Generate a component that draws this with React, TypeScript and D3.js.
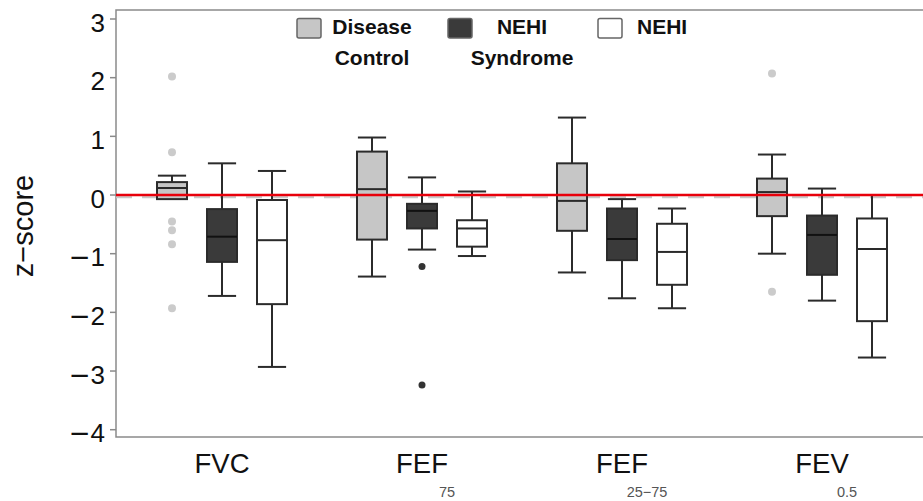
import React from "react";
import * as d3 from "d3";

const categories = ["FVC", "FEF75", "FEF25-75", "FEV0.5"];
const categoryLabels = ["FVC", "FEF", "FEF", "FEV"];
const categorySubs = ["", "75", "25−75", "0.5"];
const groups = ["Disease Control", "NEHI Syndrome", "NEHI"];
const legendLines = [["Disease", "Control"], ["NEHI", "Syndrome"], ["NEHI"]];
const yTicks = [-4, -3, -2, -1, 0, 1, 2, 3];

// [lower whisker, Q1, median, Q3, upper whisker] per category
const diseaseControl = [
  [-0.07, -0.07, 0.12, 0.22, 0.33],
  [-1.39, -0.76, 0.1, 0.74, 0.98],
  [-1.32, -0.61, -0.1, 0.54, 1.32],
  [-1.0, -0.36, 0.05, 0.28, 0.69],
];
const nehiSyndrome = [
  [-1.72, -1.14, -0.71, -0.24, 0.54],
  [-0.93, -0.57, -0.27, -0.15, 0.3],
  [-1.76, -1.11, -0.75, -0.23, -0.07],
  [-1.8, -1.36, -0.68, -0.35, 0.11],
];
const nehi = [
  [-2.93, -1.86, -0.77, -0.085, 0.41],
  [-1.04, -0.88, -0.57, -0.43, 0.06],
  [-1.93, -1.53, -0.97, -0.49, -0.23],
  [-2.77, -2.15, -0.92, -0.4, 0.0],
];
const diseaseControlOutliers = [
  [2.02, 0.73, -0.45, -0.6, -0.84, -1.93],
  [],
  [],
  [2.07, -1.65],
];
const nehiSyndromeOutliers = [[], [-1.22, -3.24], [], []];
const nehiOutliers = [[], [], [], []];

const stats = [diseaseControl, nehiSyndrome, nehi];
const outliers = [diseaseControlOutliers, nehiSyndromeOutliers, nehiOutliers];
const fills = ["#c6c6c6", "#3a3a3a", "#ffffff"];
const outlierFills = ["#cbcbcb", "#333333", "#ffffff"];
const medianStroke = ["#2a2a2a", "#111111", "#2a2a2a"];

const W = 923;
const H = 501;
const frameLeft = 116;
const frameTop = 10;
const frameBottom = 437;

export default function App() {
  const x = d3.scaleBand<string>().domain(categories).range([122, 922]);
  const xg = d3.scaleBand<string>().domain(groups).range([-75, 75]);
  const y = d3.scaleLinear().domain([-4, 3]).range([429.7, 19]);
  const boxW = xg.bandwidth() * 0.6;
  const capW = boxW * 0.94;
  const stroke = "#2b2b2b";
  const axisColor = "#8a8a8a";
  const font = "'Liberation Sans', Arial, Helvetica, sans-serif";

  return (
    <svg
      width={W}
      height={H}
      style={{ position: "absolute", left: 0, top: 0, background: "#fff" }}
      fontFamily={font}
    >
      <rect x={0} y={0} width={W} height={H} fill="#fff" />
      {/* frame */}
      <path
        d={`M${W + 5},${frameTop}H${frameLeft}V${frameBottom}H${W + 5}`}
        fill="none"
        stroke={axisColor}
        strokeWidth={1.5}
      />
      {/* y ticks */}
      {yTicks.map((t) => (
        <g key={t}>
          <line x1={frameLeft - 6} x2={frameLeft} y1={y(t)} y2={y(t)} stroke={axisColor} strokeWidth={1.5} />
          <text x={105} y={y(t) + 12.5} textAnchor="end" fontSize={26} fill="#111">
            {t < 0 ? (
              <>
                <tspan fontFamily="'DejaVu Sans'">−</tspan>
                {Math.abs(t)}
              </>
            ) : (
              String(t)
            )}
          </text>
        </g>
      ))}
      {/* y label */}
      <text
        transform={`translate(33,226) rotate(-90)`}
        textAnchor="middle"
        fontSize={29}
        fill="#111"
      >
        z−score
      </text>
      {/* zero dashed reference */}
      <line
        x1={frameLeft}
        x2={W}
        y1={y(0) + 2.3}
        y2={y(0) + 2.3}
        stroke="#c8c8c8"
        strokeWidth={2}
        strokeDasharray="16 10"
      />
      {/* boxes */}
      {categories.map((c, ci) =>
        groups.map((g, gi) => {
          const s = stats[gi][ci];
          const cx = (x(c) as number) + x.bandwidth() / 2 + (xg(g) as number) + xg.bandwidth() / 2;
          const [lo, q1, med, q3, hi] = s;
          return (
            <g key={c + g}>
              <line x1={cx} x2={cx} y1={y(hi)} y2={y(q3)} stroke={stroke} strokeWidth={2} />
              <line x1={cx} x2={cx} y1={y(q1)} y2={y(lo)} stroke={stroke} strokeWidth={2} />
              <line x1={cx - capW / 2} x2={cx + capW / 2} y1={y(hi)} y2={y(hi)} stroke={stroke} strokeWidth={2} />
              {lo < q1 && (
                <line x1={cx - capW / 2} x2={cx + capW / 2} y1={y(lo)} y2={y(lo)} stroke={stroke} strokeWidth={2} />
              )}
              <rect
                x={cx - boxW / 2}
                y={y(q3)}
                width={boxW}
                height={y(q1) - y(q3)}
                fill={fills[gi]}
                stroke={stroke}
                strokeWidth={2}
              />
              <line
                x1={cx - boxW / 2}
                x2={cx + boxW / 2}
                y1={y(med)}
                y2={y(med)}
                stroke={medianStroke[gi]}
                strokeWidth={2}
              />
              {outliers[gi][ci].map((o, oi) => (
                <circle key={oi} cx={cx} cy={y(o)} r={gi === 0 ? 4 : 3.5} fill={outlierFills[gi]} />
              ))}
            </g>
          );
        })
      )}
      {/* red zero line */}
      <line x1={frameLeft} x2={W} y1={y(0)} y2={y(0)} stroke="#e8000b" strokeWidth={2.7} />
      {/* x labels */}
      {categories.map((c, ci) => {
        const cx = (x(c) as number) + x.bandwidth() / 2;
        return (
          <g key={c}>
            <text x={cx} y={473} textAnchor="middle" fontSize={27.5} fill="#111">
              {categoryLabels[ci]}
            </text>
            {categorySubs[ci] && (
              <text x={cx + 25} y={497} textAnchor="middle" fontSize={14.5} fill="#555">
                {categorySubs[ci]}
              </text>
            )}
          </g>
        );
      })}
      {/* legend */}
      {groups.map((g, gi) => {
        const rx = [297, 448, 598][gi];
        const tx = [372, 522, 637][gi];
        const anchor = gi === 2 ? "start" : "middle";
        return (
          <g key={g}>
            <rect x={rx} y={18.5} width={24} height={19.5} rx={2} fill={fills[gi]} stroke="#666" strokeWidth={1.5} />
            {legendLines[gi].map((ln, li) => (
              <text key={li} x={tx} y={34 + li * 31} textAnchor={anchor} fontSize={21} fontWeight="bold" fill="#111">
                {ln}
              </text>
            ))}
          </g>
        );
      })}
    </svg>
  );
}
